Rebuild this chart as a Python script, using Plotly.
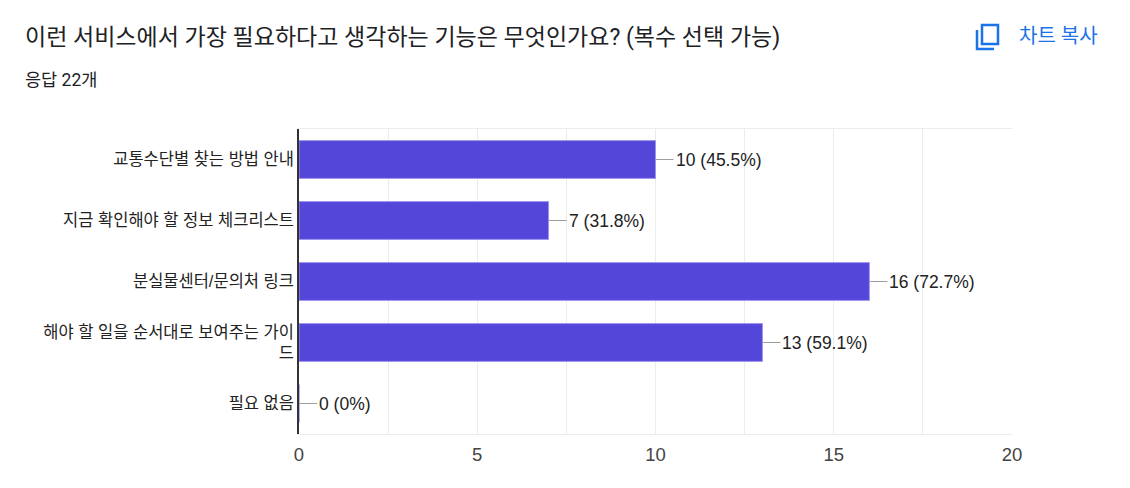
import plotly.graph_objects as go

# survey answers (top to bottom)
categories = [
    '교통수단별 찾는 방법 안내',
    '지금 확인해야 할 정보 체크리스트',
    '분실물센터/문의처 링크',
    '해야 할 일을 순서대로 보여주는 가이<br>드',
    '필요 없음',
]
counts = [10, 7, 16, 13, 0]
percents = ['45.5%', '31.8%', '72.7%', '59.1%', '0%']

title_text = '이런 서비스에서 가장 필요하다고 생각하는 기능은 무엇인가요? (복수 선택 가능)'
subtitle_text = '응답 22개'
copy_text = '차트 복사'

# page body has a default 8px margin, so everything is shifted by it
OFF = 8
W, H = 1130 - 2 * OFF, 488 - 2 * OFF
M_L = 299 - OFF
M_T = 129 - OFF
M_R = W - (1012 - OFF)
M_B = H - (434 - OFF)
PW = W - M_L - M_R
PH = H - M_T - M_B

BAR = '#5546DA'
CJK = "Roboto, 'Noto Sans CJK KR', sans-serif"
CHART_FONT = "Arial, 'Liberation Sans', 'Noto Sans CJK KR', sans-serif"


def px_x(x):
    # reference pixel -> paper
    return (x - OFF - M_L) / PW


def px_y(y):
    return 1 - (y - OFF - M_T) / PH


fig = go.Figure()

fig.add_trace(go.Bar(
    x=counts, y=categories, orientation='h',
    marker=dict(color=BAR, line=dict(color='#9d94ee', width=1)),
    width=0.62, hoverinfo='skip',
))

# value labels with short connector
for c, v, p in zip(categories, counts, percents):
    fig.add_annotation(
        x=v, y=c, text='{0} ({1})'.format(v, p),
        showarrow=True, arrowhead=0, arrowwidth=1, arrowcolor='#9e9e9e',
        ax=18, ay=0, xanchor='left', standoff=0, startstandoff=0,
        font=dict(family=CHART_FONT, size=17.5, color='#222222'),
    )

# title / subtitle / copy button
fig.add_annotation(
    x=px_x(23), y=px_y(38), xref='paper', yref='paper',
    text=title_text, showarrow=False, xanchor='left', yanchor='middle',
    font=dict(family=CJK, size=23, color='#202124'),
)
fig.add_annotation(
    x=px_x(23), y=px_y(80), xref='paper', yref='paper',
    text=subtitle_text, showarrow=False, xanchor='left', yanchor='middle',
    font=dict(family=CJK, size=17.5, color='#202124'),
)
fig.add_annotation(
    x=px_x(1017), y=px_y(36), xref='paper', yref='paper',
    text=copy_text, showarrow=False, xanchor='left', yanchor='middle',
    font=dict(family=CJK, size=20, color='#1a73e8'),
)

# copy icon
blue = '#1a73e8'
fig.add_shape(
    type='rect', xref='paper', yref='paper',
    x0=px_x(982), x1=px_x(998), y0=px_y(25), y1=px_y(44),
    line=dict(color=blue, width=2.5),
)
fig.add_shape(
    type='path', xref='paper', yref='paper',
    path='M {0} {1} L {0} {2} L {3} {2}'.format(
        px_x(977), px_y(30), px_y(49), px_x(994)),
    line=dict(color=blue, width=2.5),
)

fig.update_layout(
    width=W, height=H,
    margin=dict(l=M_L, r=M_R, t=M_T, b=M_B, pad=0),
    plot_bgcolor='white', paper_bgcolor='white',
    showlegend=False,
    xaxis=dict(
        range=[0, 20], tickvals=[0, 5, 10, 15, 20],
        showgrid=True, gridcolor='#ececec', gridwidth=1,
        minor=dict(dtick=2.5, showgrid=True, gridcolor='#ececec'),
        zeroline=False, showline=True, linecolor='#ececec', mirror=True,
        ticks='', ticklen=0, ticklabelstandoff=4,
        tickfont=dict(family=CHART_FONT, size=18.5, color='#444444'),
        fixedrange=True,
    ),
    yaxis=dict(
        autorange='reversed',
        showline=True, linecolor='#333333', linewidth=1.5,
        ticks='', ticklen=0,
        tickfont=dict(family=CHART_FONT, size=16.5, color='#222222'),
        fixedrange=True,
    ),
)

fig.write_html('out.html')
